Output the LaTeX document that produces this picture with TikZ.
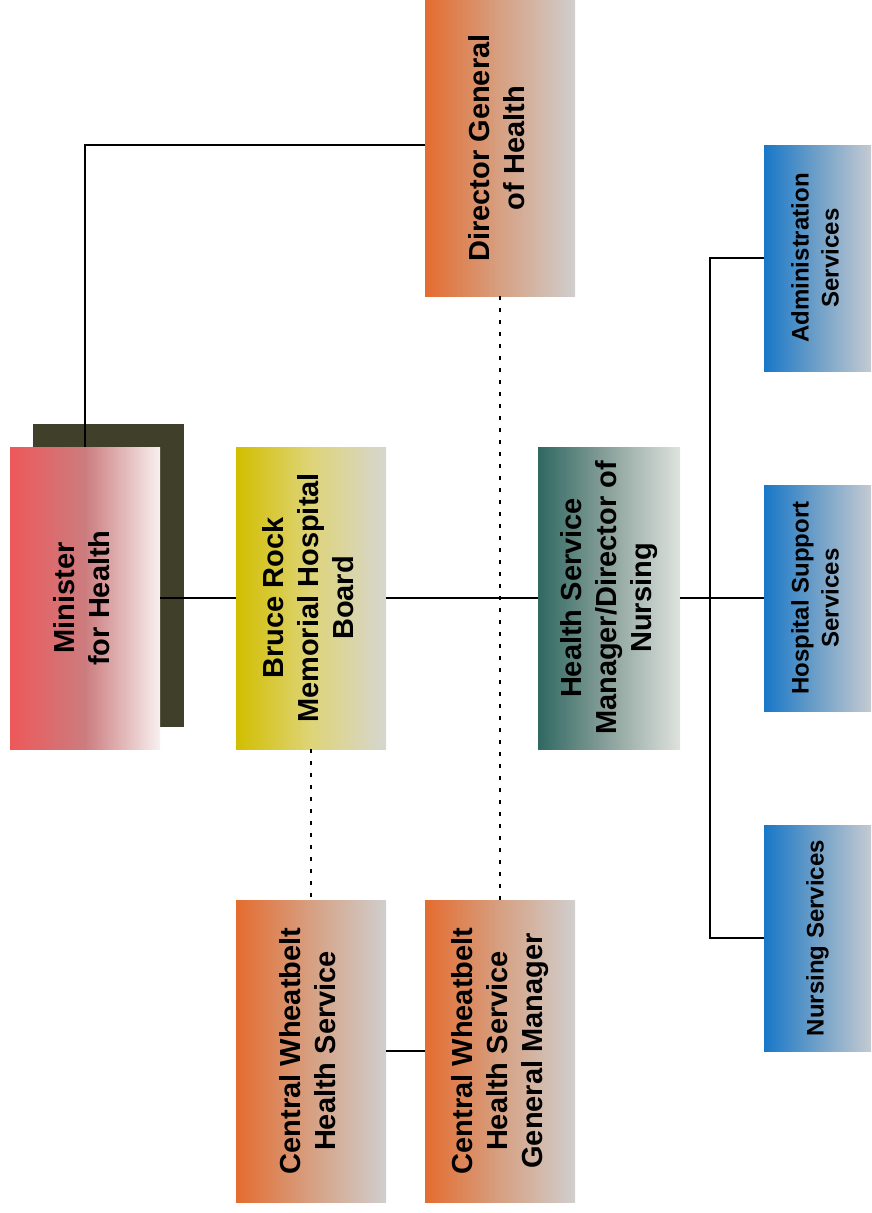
\documentclass[tikz,border=0pt]{standalone}
\usepackage{fontspec}
\setmainfont{Liberation Sans}
\usepackage{graphicx}
\usetikzlibrary{positioning}

\definecolor{minred}{RGB}{238,88,90}
\definecolor{minmid}{RGB}{204,124,126}
\definecolor{minend}{RGB}{248,240,240}
\definecolor{boardyel}{RGB}{210,190,0}
\definecolor{boardmid}{RGB}{222,212,120}
\definecolor{boardend}{RGB}{214,214,208}
\definecolor{hsmteal}{RGB}{48,104,98}
\definecolor{hsmmid}{RGB}{140,162,156}
\definecolor{hsmend}{RGB}{222,226,222}
\definecolor{dgorange}{RGB}{228,108,48}
\definecolor{dgmid}{RGB}{214,160,130}
\definecolor{dgend}{RGB}{208,206,206}
\definecolor{svcblue}{RGB}{24,120,200}
\definecolor{svcmid}{RGB}{112,160,200}
\definecolor{svcend}{RGB}{196,202,210}
\definecolor{shadowolive}{RGB}{64,64,42}

\newcommand{\vtext}[1]{\rotatebox{90}{\begin{tabular}{@{}c@{}}#1\end{tabular}}}

\tikzset{
  orgbox/.style={draw=none,inner sep=0pt,minimum width=150pt,minimum height=302pt,align=center,font=\bfseries\fontsize{29}{35}\selectfont},
  svcbox/.style={orgbox,minimum width=107pt,minimum height=226pt,font=\bfseries\fontsize{24}{30}\selectfont,left color=svcblue,right color=svcend,middle color=svcmid},
  link/.style={line width=1.5pt},
  advice/.style={line width=1.5pt,dash pattern=on 4pt off 8pt},
}

\begin{document}
\begin{tikzpicture}[x=1pt,y=-1pt]
\useasboundingbox (0,0) rectangle (871,1213);
% top level
\node[draw=none,fill=shadowolive,minimum width=151pt,minimum height=303pt] (mshadow) at (108.5,575.5) {};
\node[orgbox,left color=minred,right color=minend,middle color=minmid] (minister) at (85,598) {\vtext{Minister\\for Health}};
\node[orgbox,left color=dgorange,right color=dgend,middle color=dgmid,minimum height=296pt] (dg) at (500,148) {\vtext{Director General\\of Health}};
% middle row
\node[orgbox,left color=boardyel,right color=boardend,middle color=boardmid] (board) at (311,598) {\vtext{Bruce Rock\\Memorial Hospital\\Board}};
\node[orgbox,left color=hsmteal,right color=hsmend,middle color=hsmmid,minimum width=142pt] (hsm) at (609,598) {\vtext{Health Service\\Manager/Director of\\Nursing}};
% services
\node[svcbox] (admin) at (817.5,258) {\vtext{Administration\\Services}};
\node[svcbox] (support) at (817.5,598) {\vtext{Hospital Support\\Services}};
\node[svcbox] (nursing) at (817.5,938) {\vtext{Nursing Services}};
% region
\node[orgbox,left color=dgorange,right color=dgend,middle color=dgmid] (cwhs) at (311,1051) {\vtext{Central Wheatbelt\\Health Service}};
\node[orgbox,left color=dgorange,right color=dgend,middle color=dgmid] (cwgm) at (500,1051) {\vtext{Central Wheatbelt\\Health Service\\General Manager}};

\coordinate (bus) at (710,598);
\draw[link] (minister.north) |- ([yshift=3pt]dg.west);
\draw[link] (minister.east) -- (board.west);
\draw[link] (board.east) -- (hsm.west);
\draw[link] (hsm.east) -- (support.west);
\draw[link] (admin.west) -| (bus) |- (nursing.west);
\draw[link] (cwhs.east) -- (cwgm.west);
\draw[advice] (dg.south) -- (cwgm.north);
\draw[advice] (board.south) -- (cwhs.north);
\end{tikzpicture}
\end{document}
